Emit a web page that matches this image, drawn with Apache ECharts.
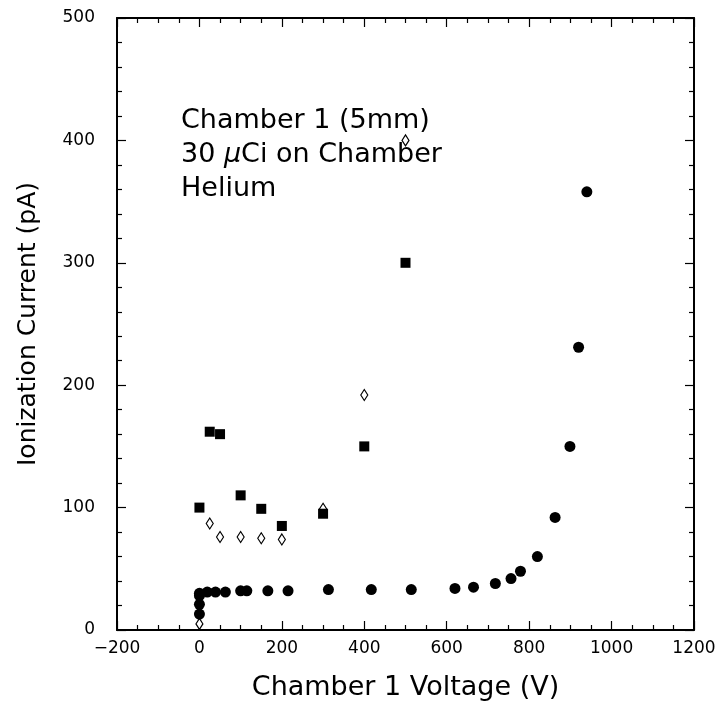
<!DOCTYPE html>
<html>
<head>
<meta charset="utf-8">
<script src="https://cdn.jsdelivr.net/npm/echarts@6/dist/echarts.min.js"></script>
<style>
  html, body { margin: 0; padding: 0; background: #fff; }
  #chart { width: 723px; height: 706px; }
</style>
</head>
<body>
<div id="chart"></div>
<script>
// voltage (V), current (pA)
const circlePoints = [
  [0, 13], [0, 21], [0, 28], [0, 30], [19, 31], [39, 31], [63, 31],
  [100, 32], [115, 32], [166, 32], [215, 32], [313, 33], [417, 33],
  [514, 33], [620, 34], [665, 35], [718, 38], [756, 42], [779, 48],
  [820, 60], [863, 92], [899, 150], [920, 231], [940, 358]
];
const squarePoints = [
  [0, 100], [25, 162], [50, 160], [100, 110], [150, 99], [200, 85],
  [300, 95], [400, 150], [500, 300]
];
const diamondPoints = [
  [0, 5], [25, 87], [50, 76], [100, 76], [150, 75], [200, 74],
  [300, 99], [400, 192], [500, 400]
];

const xRange = { min: -200, max: 1200, interval: 200 };
const yRange = { min: 0, max: 500, interval: 100 };

const font = '"DejaVu Sans", sans-serif';
const ink = '#000';

function makeAxis(range, opts) {
  return Object.assign({
    type: 'value',
    min: range.min,
    max: range.max,
    interval: range.interval,
    axisLine: { show: true, onZero: false, lineStyle: { color: ink, width: 2 } },
    axisTick: { show: true, inside: true, length: 9, lineStyle: { color: ink, width: 1.2 } },
    splitLine: { show: false },
    axisLabel: { show: false }
  }, opts);
}

function minor(n) {
  return { show: true, splitNumber: n, length: 5, lineStyle: { color: ink, width: 1.2 } };
}

const chart = echarts.init(document.getElementById('chart'));

chart.setOption({
  backgroundColor: '#fff',
  animation: false,
  grid: { left: 117, right: 29, top: 18, bottom: 75 },
  xAxis: [
    makeAxis(xRange, {
      position: 'bottom',
      minorTick: minor(4),
      axisLabel: {
        show: true, color: ink, fontSize: 17, fontFamily: font, margin: 10,
        formatter: v => String(v).replace('-', '\u2212')
      },
      name: 'Chamber 1 Voltage (V)',
      nameLocation: 'middle',
      nameGap: 44,
      nameTextStyle: { color: ink, fontSize: 27, fontFamily: font }
    }),
    makeAxis(xRange, { position: 'top', minorTick: minor(4) })
  ],
  yAxis: [
    makeAxis(yRange, {
      position: 'left',
      minorTick: minor(5),
      axisLabel: { show: true, color: ink, fontSize: 17, fontFamily: font, margin: 22 },
      name: 'Ionization Current (pA)',
      nameLocation: 'middle',
      nameGap: 76,
      nameTextStyle: { color: ink, fontSize: 25, fontFamily: font }
    }),
    makeAxis(yRange, { position: 'right', minorTick: minor(5) })
  ],
  series: [
    {
      type: 'scatter',
      data: diamondPoints,
      symbol: 'path://M0,-1 L0.64,0 L0,1 L-0.64,0 Z',
      symbolSize: [7, 11],
      itemStyle: { color: '#fff', borderColor: ink, borderWidth: 1.2, opacity: 1 }
    },
    {
      type: 'scatter',
      data: squarePoints,
      symbol: 'rect',
      symbolSize: 10,
      itemStyle: { color: ink, opacity: 1 }
    },
    {
      type: 'scatter',
      data: circlePoints,
      symbol: 'circle',
      symbolSize: 11,
      itemStyle: { color: ink, opacity: 1 }
    }
  ],
  graphic: [
    {
      type: 'text',
      left: 181,
      top: 104,
      style: {
        text: 'Chamber 1 (5mm)\n30 {it|\u03bc}Ci on Chamber\nHelium',
        fill: ink,
        font: '27px ' + font,
        lineHeight: 34,
        rich: {
          it: { fontStyle: 'italic', fontSize: 27, fontFamily: font, fill: ink, lineHeight: 34 }
        }
      }
    }
  ]
});
</script>
</body>
</html>
